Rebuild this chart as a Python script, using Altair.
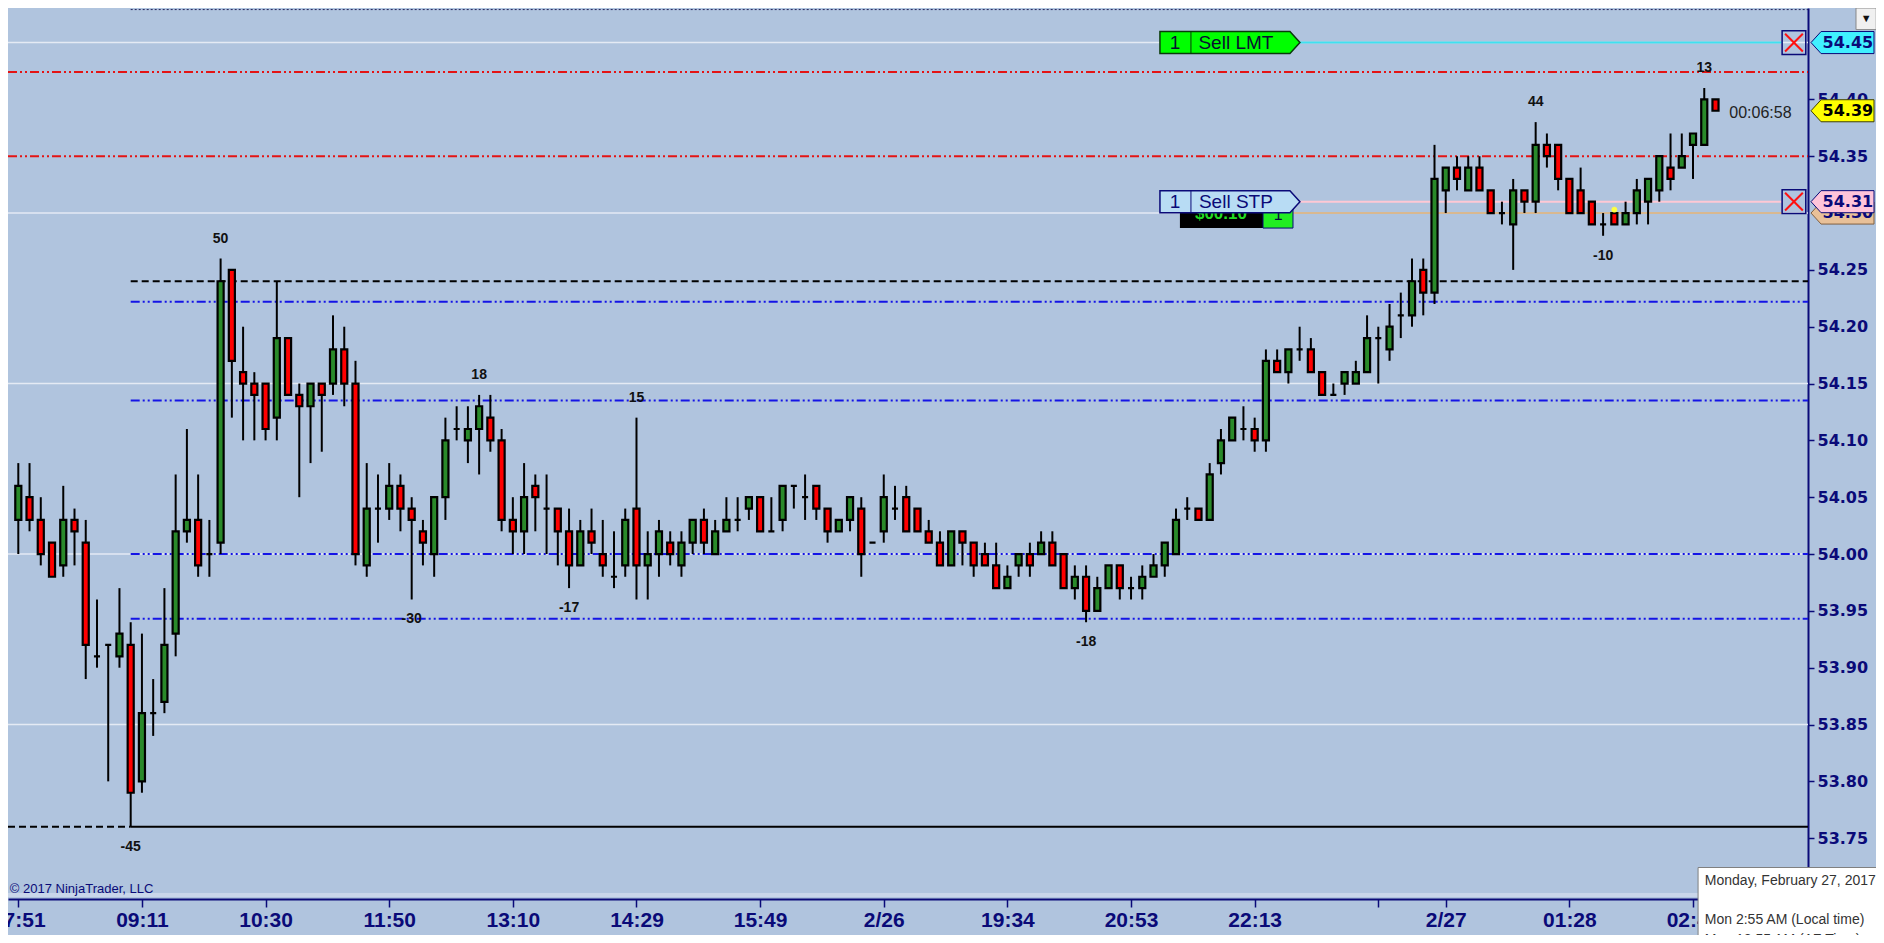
import altair as alt
import pandas as pd

# ---------------- data ----------------
opens = [54.03, 54.05, 54.03, 54.01, 53.99, 54.03, 54.01, 53.91, 53.92, 53.91,
         53.92, 53.80, 53.86, 53.87, 53.93, 54.02, 54.03, 54.00, 54.01, 54.25,
         54.16, 54.15, 54.15, 54.12, 54.19, 54.14, 54.13, 54.15, 54.15, 54.18,
         54.15, 53.99, 54.04, 54.04, 54.06, 54.04, 54.02, 54.00, 54.05, 54.11,
         54.10, 54.11, 54.12, 54.10, 54.03, 54.02, 54.06, 54.04, 54.04, 54.02,
         53.99, 54.02, 54.00, 53.98, 53.99, 54.04, 53.99, 54.00, 54.01, 53.99,
         54.01, 54.03, 54.00, 54.02, 54.03, 54.04, 54.05, 54.02, 54.03, 54.06,
         54.05, 54.06, 54.04, 54.02, 54.03, 54.04, 54.01, 54.02, 54.04, 54.05,
         54.04, 54.02, 54.01, 53.99, 54.02, 54.01, 54.00, 53.99, 53.97, 53.99,
         54.00, 54.00, 54.01, 54.00, 53.97, 53.98, 53.95, 53.97, 53.99, 53.97,
         53.97, 53.98, 53.99, 54.00, 54.04, 54.04, 54.03, 54.08, 54.10, 54.11,
         54.11, 54.10, 54.17, 54.16, 54.18, 54.18, 54.16, 54.14, 54.15, 54.15,
         54.16, 54.19, 54.18, 54.21, 54.21, 54.25, 54.23, 54.32, 54.34, 54.32,
         54.34, 54.32, 54.30, 54.29, 54.32, 54.31, 54.36, 54.36, 54.33, 54.32,
         54.31, 54.29, 54.30, 54.29, 54.30, 54.31, 54.32, 54.34, 54.34, 54.36,
         54.36, 54.40]
highs = [54.08, 54.08, 54.05, 54.01, 54.06, 54.04, 54.03, 53.96, 53.92, 53.97,
         53.94, 53.93, 53.89, 53.97, 54.07, 54.11, 54.07, 54.03, 54.26, 54.25,
         54.20, 54.16, 54.15, 54.24, 54.19, 54.15, 54.15, 54.15, 54.21, 54.20,
         54.17, 54.08, 54.07, 54.08, 54.07, 54.05, 54.03, 54.05, 54.12, 54.13,
         54.13, 54.14, 54.14, 54.11, 54.05, 54.08, 54.07, 54.07, 54.04, 54.04,
         54.03, 54.04, 54.03, 54.02, 54.04, 54.12, 54.02, 54.03, 54.02, 54.02,
         54.03, 54.04, 54.03, 54.05, 54.05, 54.05, 54.05, 54.05, 54.06, 54.06,
         54.07, 54.06, 54.04, 54.03, 54.05, 54.05, 54.01, 54.07, 54.06, 54.06,
         54.04, 54.03, 54.02, 54.02, 54.02, 54.01, 54.01, 54.01, 53.99, 54.00,
         54.01, 54.02, 54.02, 54.00, 53.99, 53.99, 53.98, 53.99, 53.99, 53.98,
         53.99, 54.00, 54.01, 54.04, 54.05, 54.04, 54.08, 54.11, 54.12, 54.13,
         54.12, 54.18, 54.18, 54.18, 54.20, 54.19, 54.16, 54.15, 54.16, 54.17,
         54.21, 54.20, 54.22, 54.23, 54.26, 54.26, 54.36, 54.34, 54.35, 54.35,
         54.35, 54.32, 54.31, 54.33, 54.32, 54.38, 54.37, 54.36, 54.33, 54.34,
         54.31, 54.30, 54.30, 54.31, 54.33, 54.33, 54.35, 54.37, 54.37, 54.37,
         54.41, 54.40]
lows = [54.00, 54.02, 53.99, 53.98, 53.98, 53.99, 53.89, 53.90, 53.80, 53.90,
        53.76, 53.79, 53.84, 53.86, 53.91, 54.01, 53.98, 53.98, 54.00, 54.12,
        54.10, 54.10, 54.10, 54.10, 54.14, 54.05, 54.08, 54.09, 54.14, 54.13,
        53.99, 53.98, 54.01, 54.03, 54.02, 53.96, 53.99, 53.98, 54.03, 54.10,
        54.08, 54.07, 54.09, 54.02, 54.00, 54.00, 54.02, 54.00, 53.99, 53.97,
        53.99, 54.00, 53.98, 53.97, 53.98, 53.96, 53.96, 53.98, 53.99, 53.98,
        54.00, 54.00, 54.00, 54.02, 54.02, 54.03, 54.02, 54.02, 54.02, 54.04,
        54.03, 54.03, 54.01, 54.02, 54.02, 53.98, 54.01, 54.01, 54.03, 54.02,
        54.02, 54.01, 53.99, 53.99, 53.99, 53.98, 53.99, 53.97, 53.97, 53.98,
        53.98, 54.00, 53.99, 53.97, 53.96, 53.94, 53.95, 53.97, 53.96, 53.96,
        53.96, 53.98, 53.98, 54.00, 54.03, 54.03, 54.03, 54.07, 54.10, 54.10,
        54.09, 54.09, 54.16, 54.15, 54.17, 54.16, 54.14, 54.14, 54.14, 54.15,
        54.16, 54.15, 54.17, 54.19, 54.20, 54.21, 54.22, 54.30, 54.32, 54.32,
        54.32, 54.30, 54.29, 54.25, 54.30, 54.30, 54.34, 54.32, 54.30, 54.30,
        54.29, 54.28, 54.29, 54.29, 54.29, 54.29, 54.31, 54.32, 54.34, 54.33,
        54.36, 54.39]
closes = [54.06, 54.03, 54.00, 53.98, 54.03, 54.02, 53.92, 53.91, 53.92, 53.93,
          53.79, 53.86, 53.86, 53.92, 54.02, 54.03, 53.99, 54.00, 54.24, 54.17,
          54.15, 54.14, 54.11, 54.19, 54.14, 54.13, 54.15, 54.14, 54.18, 54.15,
          54.00, 54.04, 54.04, 54.06, 54.04, 54.03, 54.01, 54.05, 54.10, 54.11,
          54.11, 54.13, 54.10, 54.03, 54.02, 54.05, 54.05, 54.04, 54.02, 53.99,
          54.02, 54.01, 53.99, 53.98, 54.03, 53.99, 54.00, 54.02, 54.00, 54.01,
          54.03, 54.01, 54.02, 54.03, 54.03, 54.05, 54.02, 54.02, 54.06, 54.06,
          54.05, 54.04, 54.02, 54.03, 54.05, 54.00, 54.01, 54.05, 54.04, 54.02,
          54.02, 54.01, 53.99, 54.02, 54.01, 53.99, 53.99, 53.97, 53.98, 54.00,
          53.99, 54.01, 53.99, 53.97, 53.98, 53.95, 53.97, 53.99, 53.97, 53.97,
          53.98, 53.99, 54.01, 54.03, 54.04, 54.03, 54.07, 54.10, 54.12, 54.11,
          54.10, 54.17, 54.16, 54.18, 54.18, 54.16, 54.14, 54.14, 54.16, 54.16,
          54.19, 54.19, 54.20, 54.21, 54.24, 54.23, 54.33, 54.34, 54.33, 54.34,
          54.32, 54.30, 54.30, 54.32, 54.31, 54.36, 54.35, 54.33, 54.30, 54.30,
          54.29, 54.29, 54.29, 54.30, 54.32, 54.33, 54.35, 54.33, 54.35, 54.37,
          54.40, 54.39]

tick_bars = [0, 11, 22, 33, 44, 55, 66, 77, 88, 99, 110, 121, 127, 138, 149]
tick_labels = ["07:51", "09:11", "10:30", "11:50", "13:10", "14:29", "15:49", "2/26",
               "19:34", "20:53", "22:13", "", "2/27", "01:28", "02:48"]
# 54.30 and 54.45 sit fully under the order price tags, so only the visible ticks are listed
price_ticks = [53.75, 53.80, 53.85, 53.90, 53.95, 54.00, 54.05, 54.10, 54.15,
               54.20, 54.25, 54.35, 54.40]

swing_bars = [18, 41, 55, 135, 150, 10, 35, 49, 95, 141]
swing_texts = ["50", "18", "15", "44", "13", "-45", "-30", "-17", "-18", "-10"]
swing_side = ["H", "H", "H", "H", "H", "L", "L", "L", "L", "L"]

grid_levels = [54.45, 54.30, 54.15, 54.00, 53.85, 53.70]
red_levels = [54.424, 54.35]
blue_levels = [54.222, 54.135, 54.00, 53.943]
black_dash_levels = [54.24]
support_level = [53.76]
top_dotted_level = [54.479]
level_start_bar = 10

limit_price = 54.45
stop_price = 54.31
stop_price2 = 54.30
last_price = 54.39

# ---------------- styling ----------------
BG = "#B0C4DE"
NAVY = "#0A0A78"
GREEN = "#2A8A2A"
RED = "#FF0000"
AXFONT = "DejaVu Sans"
XFONT = "Liberation Sans Narrow, Arial Narrow, Liberation Sans, sans-serif"

XMIN, XMAX = -0.9164, 159.23
YMIN, YMAX = 53.6965, 54.4804

label_expr = " : ".join(f"datum.value == {b} ? '{t}'" for b, t in zip(tick_bars, tick_labels)) + " : ''"

XS = alt.Scale(domain=[XMIN, XMAX], nice=False, zero=False)
YS = alt.Scale(domain=[YMIN, YMAX], nice=False, zero=False)
XAX = alt.Axis(values=tick_bars, labelExpr=label_expr, orient="bottom", title=None, grid=False,
               domainColor=NAVY, domainWidth=2, tickColor=NAVY, tickWidth=1.5, tickSize=8,
               labelColor=NAVY, labelFont=XFONT, labelFontSize=21, labelFontWeight="bold",
               labelPadding=2, labelOverlap=False, labelFlush=False, labelBound=False)
YAX = alt.Axis(values=price_ticks, format=".2f", orient="right", title=None, grid=False,
               domainColor=NAVY, domainWidth=2, tickColor=NAVY, tickWidth=1.5, tickSize=6,
               labelColor=NAVY, labelFont=AXFONT, labelFontSize=16, labelFontWeight="bold",
               labelPadding=3, labelOverlap=False, labelFlush=False, labelBound=False)


def X(f):
    return alt.X(field=f, type="quantitative", scale=XS, axis=XAX)


def Y(f):
    return alt.Y(field=f, type="quantitative", scale=YS, axis=YAX)


def hline(levels, x0, x1, color, width, dash=None):
    df = pd.DataFrame({"p": levels})
    df["x0"] = x0
    df["x1"] = x1
    kw = dict(color=color, strokeWidth=width)
    if dash:
        kw["strokeDash"] = dash
    return alt.Chart(df).mark_rule(**kw).encode(x=X("x0"), x2=alt.X2("x1"), y=Y("p"))


def box(x0, x1, p0, p1, fill, stroke=None, sw=1):
    df = pd.DataFrame({"x0": [x0], "x1": [x1], "p0": [p0], "p1": [p1]})
    kw = dict(fill=fill, strokeWidth=sw)
    if stroke:
        kw["stroke"] = stroke
    return alt.Chart(df).mark_rect(**kw).encode(x=X("x0"), x2=alt.X2("x1"), y=Y("p0"), y2=alt.Y2("p1"))


def label(x, p, text, size, color, font="Liberation Sans", weight="normal", align="center", dy=0):
    df = pd.DataFrame({"x": [x], "p": [p], "t": [text]})
    return alt.Chart(df).mark_text(fontSize=size, color=color, font=font, fontWeight=weight,
                                   align=align, baseline="middle", dy=dy).encode(
        x=X("x"), y=Y("p"), text="t:N")


# ---------------- candles ----------------
n = len(opens)
bars = pd.DataFrame({"i": list(range(n)), "o": opens, "h": highs, "l": lows, "c": closes})
bars["top"] = bars[["o", "c"]].max(axis=1)
bars["bot"] = bars[["o", "c"]].min(axis=1)
bars["xl"] = bars["i"] - 0.27
bars["xr"] = bars["i"] + 0.27
bars["dir"] = ["up" if c > o else ("down" if c < o else "flat") for o, c in zip(opens, closes)]

wicks = alt.Chart(bars).mark_rule(color="black", strokeWidth=2).encode(
    x=X("i"), y=Y("l"), y2=alt.Y2("h"))
bodies = alt.Chart(bars).mark_rect(stroke="black", strokeWidth=2.2).encode(
    x=X("xl"), x2=alt.X2("xr"), y=Y("top"), y2=alt.Y2("bot"),
    color=alt.Color("dir:N", scale=alt.Scale(domain=["up", "down", "flat"], range=[GREEN, RED, "black"]),
                    legend=None))

sw = pd.DataFrame({"i": swing_bars, "t": swing_texts, "side": swing_side})
sw["p"] = [highs[b] if s == "H" else lows[b] for b, s in zip(swing_bars, swing_side)]
sw_hi = alt.Chart(sw[sw.side == "H"]).mark_text(fontSize=14, fontWeight="bold", color="#111",
                                                font="Liberation Sans", dy=-20).encode(
    x=X("i"), y=Y("p"), text="t:N")
sw_lo = alt.Chart(sw[sw.side == "L"]).mark_text(fontSize=14, fontWeight="bold", color="#111",
                                                font="Liberation Sans", dy=20).encode(
    x=X("i"), y=Y("p"), text="t:N")

# ---------------- horizontal levels ----------------
grid = hline(grid_levels, XMIN, XMAX, "#E4EAF4", 1.5)
reds = hline(red_levels, XMIN, XMAX, "#E41414", 2, [9, 3, 2, 3, 2, 3])
blues = hline(blue_levels, level_start_bar, XMAX, "#1414E6", 2, [9, 3, 2, 3, 2, 3])
blackdash = hline(black_dash_levels, level_start_bar, XMAX, "black", 2, [7, 4])
support_dash = hline(support_level, XMIN, level_start_bar, "black", 2, [7, 4])
support = hline(support_level, level_start_bar, XMAX, "black", 2)
topdot = hline(top_dotted_level, level_start_bar, XMAX, "#22225A", 1, [2, 2])
axis_strip = hline([YMIN + 0.0035], XMIN, 167, "#C9D6EA", 4)
axis_ext = hline([YMIN], XMAX, 167, NAVY, 2)

# order lines
cyan_line = hline([limit_price], 114.0, 156.9, "#40E0F0", 2)
pink_line = hline([stop_price], 114.0, 156.9, "#FFC8D4", 2)
tan_line = hline([stop_price2], 113.4, 156.9, "#D8B890", 2)

# ---------------- order tags ----------------
SELL_PATH = "M -1 -0.157 L 0.857 -0.157 L 1 0 L 0.857 0.157 L -1 0.157 Z"
RTAG_PATH = "M -1 0 L -0.68 -0.35 L 1 -0.35 L 1 0.35 L -0.68 0.35 Z"
X_PATH = "M -0.75 -0.75 L 0.75 0.75 M 0.75 -0.75 L -0.75 0.75"


def shape(x, p, path, size, fill, stroke, sw_=1.5, filled=True):
    df = pd.DataFrame({"x": [x], "p": [p]})
    kw = dict(shape=path, size=size, filled=filled, stroke=stroke, strokeWidth=sw_, opacity=1)
    if filled:
        kw["fill"] = fill
    return alt.Chart(df).mark_point(**kw).encode(x=X("x"), y=Y("p"))


def sell_tag(p, fill, stroke, textcolor, text):
    half = 0.0095
    return [
        shape(107.80, p, SELL_PATH, 19600, fill, stroke),
        hline([p], 104.33, 104.33, stroke, 1).encode(y=Y("p0"), y2=alt.Y2("p1")).transform_calculate(
            p0=f"{p - half}", p1=f"{p + half}"),
        label(102.91, p, "1", 19, textcolor),
        label(108.33, p, text, 19, textcolor),
    ]


lmt = sell_tag(limit_price, "#00FF00", "#0A3A0A", "#081030", "Sell LMT")
stp_under = [
    box(103.35, 110.74, 54.2868, 54.3027, "black"),
    box(110.74, 113.41, 54.2868, 54.3079, "#22EE22", "#0A0A78", 1),
    label(107.0, 54.2990, "$00.10", 17, "#22DD22", weight="bold"),
    label(112.1, 54.2985, "1", 16, "#0A0A40"),
]
stp = sell_tag(stop_price, "#B8DCF4", NAVY, NAVY, "Sell STP")

xboxes = []
for p in [limit_price, stop_price]:
    xboxes.append(shape(157.98, p, "square", 560, None, NAVY, 1.5, filled=False))
    xboxes.append(shape(157.98, p, X_PATH, 560, None, "#FF1010", 2, filled=False))

# right-side price tags
TAG_X, TAG_TX = 162.30, 162.78
tan_tag = [shape(TAG_X, stop_price2, RTAG_PATH, 3969, "#E8C098", "#806040", 1),
           label(TAG_TX, stop_price2, "54.30", 16, NAVY, font=AXFONT, weight="bold")]
other_tags = []
for p, t, f, s, tc in [(stop_price, "54.31", "#FFC4DA", NAVY, NAVY),
                       (limit_price, "54.45", "#40F0FF", NAVY, NAVY),
                       (last_price, "54.39", "#FFFF00", "#404000", "black")]:
    other_tags.append(shape(TAG_X, p, RTAG_PATH, 3969, f, s, 1))
    other_tags.append(label(TAG_TX, p, t, 16, tc, font=AXFONT, weight="bold"))

ydot = shape(142, 54.303, "circle", 28, "#FFFF40", "#FFFF40", 0.5)

# ---------------- misc text ----------------
timer = label(155.0, 54.388, "00:06:58", 16, "#222222")
copyright_ = label(-0.75, 53.7053, "\u00a9 2017 NinjaTrader, LLC", 13, NAVY, align="left")
dropdown = [box(163.5, 165.3, 54.4614, YMAX, "#F0F0F0", "#888888", 1),
            label(164.4, 54.4709, "\u25bc", 11, "#111111")]
tooltip = [box(149.45, 168.0, 53.60, 53.7242, "white", "#808080", 1),
           label(150.05, 53.7125, "Monday, February 27, 2017", 14, "#333333", align="left"),
           label(150.05, 53.6780, "Mon 2:55 AM  (Local time)", 14, "#333333", align="left"),
           label(150.05, 53.6605, "Mon 12:55 AM  (AZ Time)", 14, "#333333", align="left")]

layers = ([grid, axis_strip, axis_ext, reds, blues, blackdash, support_dash, support, topdot,
           cyan_line, pink_line, tan_line, wicks, bodies, ydot, sw_hi, sw_lo]
          + lmt + stp_under + stp + xboxes + tan_tag + other_tags
          + [timer, copyright_] + dropdown + tooltip)

chart = alt.layer(*layers).properties(
    width=1800, height=891,
    autosize=alt.AutoSizeParams(type="none"),
    padding={"left": 0, "top": 0, "right": 68, "bottom": 36},
    background=BG,
).configure_view(stroke=None)

chart.save("out.html", embed_options={"renderer": "svg", "actions": False})
